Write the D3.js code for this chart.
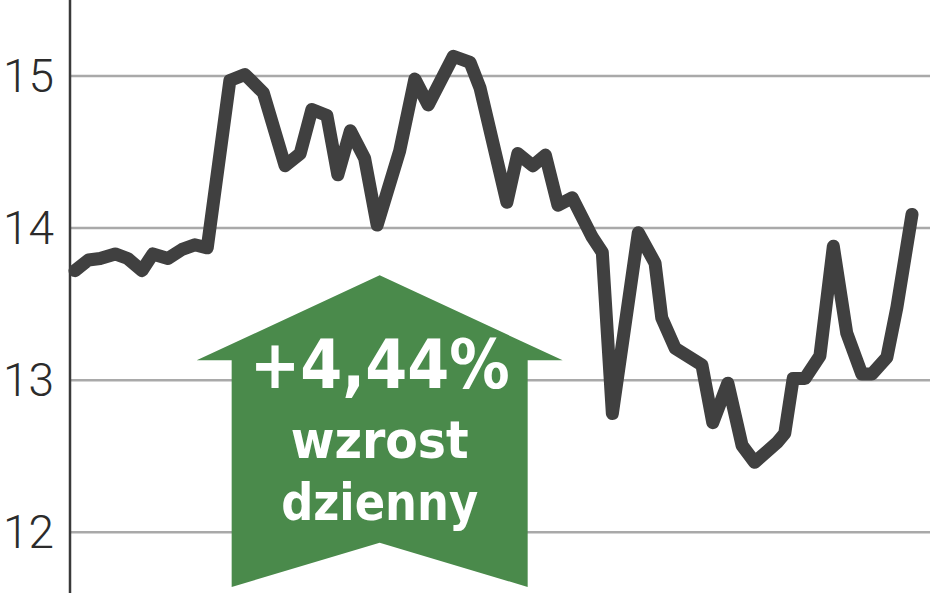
<!DOCTYPE html>
<html><head><meta charset="utf-8">
<script src="https://cdn.jsdelivr.net/npm/d3@7"></script>
<style>html,body{margin:0;padding:0;background:#fff;}svg{display:block;}</style>
</head><body>
<svg id="chart" width="948" height="593"></svg>
<script>
// time position (0..100 across the period) and price
const times = [0,1.6,3.0,4.8,6.3,8.0,9.3,11.1,12.8,14.3,15.8,18.5,20.3,22.5,25.1,26.9,28.3,30.1,31.4,32.9,34.6,36.1,38.8,40.6,42.2,45.2,47.2,48.4,51.6,52.9,54.7,56.2,57.7,59.4,61.8,63.0,64.2,67.3,69.3,70.1,71.7,74.9,76.2,78.0,79.7,81.2,83.9,84.8,85.8,87.2,89.0,90.6,92.2,94.0,95.2,97.0,98.2,100];
const prices = [13.72,13.79,13.80,13.83,13.80,13.72,13.83,13.80,13.86,13.89,13.87,14.97,15.01,14.89,14.41,14.49,14.78,14.74,14.35,14.64,14.46,14.02,14.51,14.98,14.81,15.13,15.09,14.92,14.17,14.49,14.41,14.48,14.15,14.20,13.94,13.84,12.78,13.97,13.77,13.41,13.21,13.10,12.72,12.98,12.57,12.46,12.59,12.65,13.01,13.01,13.16,13.88,13.31,13.04,13.04,13.15,13.48,14.09];
const yTicks = [12,13,14,15];
const badgeLines = ["+4,44%","wzrost","dzienny"];

const W = 948, H = 593;
const svg = d3.select("#chart");
const x = d3.scaleLinear().domain([0,100]).range([75,912]);
const y = d3.scaleLinear().domain([11.6,15.5]).range([593,0]);
const axisX = 70, gridEnd = 930;

// gridlines
svg.append("g").selectAll("line").data(yTicks).join("line")
  .attr("x1", axisX).attr("x2", gridEnd)
  .attr("y1", d => y(d)).attr("y2", d => y(d))
  .attr("stroke", "#a9a9a9").attr("stroke-width", 2.5);

// tick labels
svg.append("g").selectAll("text").data(yTicks).join("text")
  .attr("x", 54).attr("y", d => y(d))
  .attr("text-anchor", "end").attr("dominant-baseline", "central")
  .attr("font-family", "Roboto, 'Open Sans', sans-serif").attr("font-weight", 300)
  .attr("font-size", 46).attr("fill", "#2b2b2b")
  .text(d => d);

// axis
svg.append("line").attr("x1", axisX).attr("x2", axisX).attr("y1", 0).attr("y2", H)
  .attr("stroke", "#3a3a3a").attr("stroke-width", 2.5);

// badge arrow (anchored in data space)
const ax = x(36.4), apexY = y(13.69), wingY = y(13.13), botY = y(11.64), notchY = y(11.93);
const wingHalf = 183, shaftHalf = 148;
const arrowPts = [
  [ax, apexY], [ax + wingHalf, wingY], [ax + shaftHalf, wingY], [ax + shaftHalf, botY],
  [ax, notchY], [ax - shaftHalf, botY], [ax - shaftHalf, wingY], [ax - wingHalf, wingY]
];
svg.append("path").attr("d", d3.line()(arrowPts) + "Z").attr("fill", "#4a8a4b");

const textSpecs = [
  {yy: 388, size: 68, len: 260},
  {yy: 458, size: 52, len: 178},
  {yy: 520, size: 52, len: 197}
];
svg.append("g").selectAll("text").data(badgeLines).join("text")
  .attr("x", ax).attr("y", (d,i) => textSpecs[i].yy)
  .attr("text-anchor", "middle")
  .attr("font-family", "'Liberation Sans Narrow', 'DejaVu Sans Condensed', 'Roboto', sans-serif")
  .attr("font-weight", "bold")
  .attr("font-size", (d,i) => textSpecs[i].size)
  .attr("textLength", (d,i) => textSpecs[i].len)
  .attr("lengthAdjust", "spacingAndGlyphs")
  .attr("fill", "#fff")
  .text(d => d);

// price line
const data = times.map((t,i) => ({t, v: prices[i]}));
svg.append("path").datum(data)
  .attr("d", d3.line().x(d => x(d.t)).y(d => y(d.v)))
  .attr("fill", "none").attr("stroke", "#404040").attr("stroke-width", 13)
  .attr("stroke-linejoin", "round").attr("stroke-linecap", "round");
</script>
</body></html>
